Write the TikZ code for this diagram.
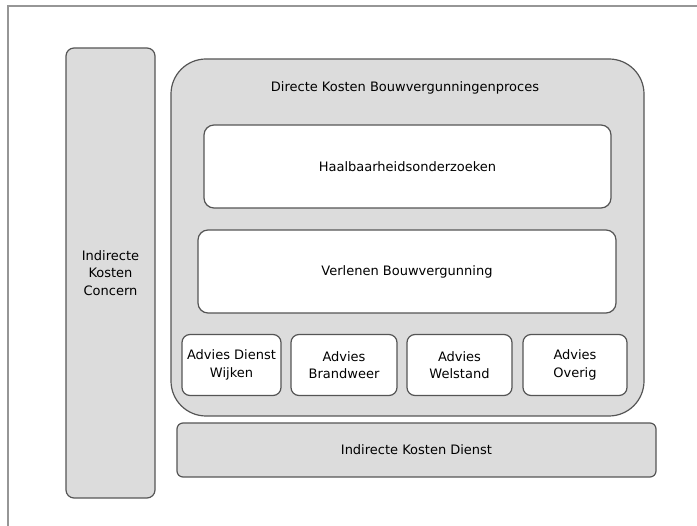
\documentclass[tikz,border=0pt]{standalone}
\usepackage{fontspec}
\setmainfont{DejaVu Sans}
\usepackage{tikz}
\definecolor{vakgrijs}{RGB}{220,220,220}
\definecolor{randgrijs}{RGB}{85,85,85}
\definecolor{kadergrijs}{RGB}{150,150,150}

\begin{document}
\begin{tikzpicture}[x=1pt,y=-1pt,
  vak/.style={draw=randgrijs, line width=1.2pt, fill=vakgrijs, rounded corners=8pt,
    align=center, inner sep=0pt, font=\fontsize{13}{17.5}\selectfont},
  witvak/.style={vak, fill=white}]
\useasboundingbox (0,0) rectangle (697,526);
% kader
\coordinate (kaderlo) at (8,526);
\coordinate (kaderlb) at (8,6);
\coordinate (kaderrb) at (697,6);
\draw[kadergrijs, line width=1.5pt] (kaderlo) -- (kaderlb) -- (kaderrb);
% indirecte kosten
\node[vak, minimum width=89pt, minimum height=450pt] (concern) at (110.5,273) {Indirecte\\Kosten\\Concern};
\node[vak, minimum width=479pt, minimum height=54pt, rounded corners=6pt] (dienst) at (416.5,450) {Indirecte Kosten Dienst};
% directe kosten
\node[vak, minimum width=473pt, minimum height=357pt, rounded corners=35pt] (proces) at (407.5,237.5) {};
\node[font=\fontsize{13}{17.5}\selectfont] (titel) at (405,88) {Directe Kosten Bouwvergunningenproces};
\node[witvak, minimum width=407pt, minimum height=83pt, rounded corners=10pt] (haalbaar) at (407.5,166.5) {Haalbaarheidsonderzoeken};
\node[witvak, minimum width=418pt, minimum height=83pt, rounded corners=10pt] (verlenen) at (407,271.5) {Verlenen Bouwvergunning};
% adviezen
\node[witvak, minimum width=99pt, minimum height=61pt] (wijken) at (231.5,365) {Advies Dienst\\Wijken};
\node[witvak, minimum width=106pt, minimum height=61pt] (brandweer) at (344,365) {Advies\\Brandweer};
\node[witvak, minimum width=105pt, minimum height=61pt] (welstand) at (459.5,365) {Advies\\Welstand};
\node[witvak, minimum width=104pt, minimum height=61pt] (overig) at (575,365) {Advies\\Overig};
\end{tikzpicture}
\end{document}
